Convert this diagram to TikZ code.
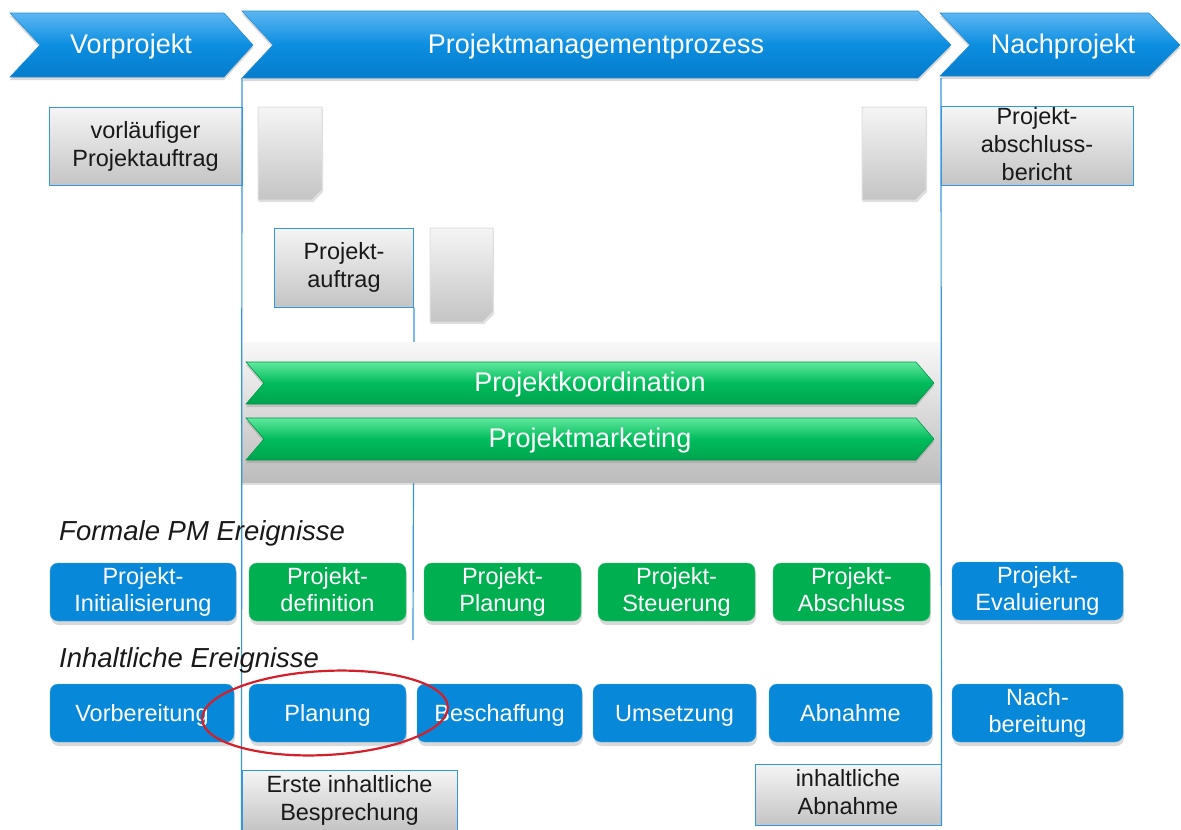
\documentclass[tikz,border=0pt]{standalone}
\usepackage{fontspec}
\setmainfont{Liberation Sans}
\usetikzlibrary{shapes.geometric,shadows}
\definecolor{chevtop}{RGB}{92,182,242}
\definecolor{chevmid}{RGB}{12,142,224}
\definecolor{chevbot}{RGB}{6,124,204}
\definecolor{chevedge}{RGB}{40,140,210}
\definecolor{grtop}{RGB}{96,232,156}
\definecolor{grmid}{RGB}{0,188,92}
\definecolor{grbot}{RGB}{0,164,78}
\definecolor{gredge}{RGB}{0,150,72}
\definecolor{boxtop}{RGB}{245,245,245}
\definecolor{boxbot}{RGB}{196,196,196}
\definecolor{lineblue}{RGB}{52,150,220}
\definecolor{evblue}{RGB}{8,136,216}
\definecolor{evgreen}{RGB}{0,176,80}
\definecolor{paneltop}{RGB}{248,248,248}
\definecolor{panelbot}{RGB}{188,188,188}
\definecolor{ringred}{RGB}{212,32,42}
\newcommand{\pmhead}{\fontsize{27}{30}\selectfont}
\newcommand{\pmbox}{\fontsize{23.5}{28}\selectfont}
\newcommand{\pmev}{\fontsize{23.5}{27}\selectfont}
\newcommand{\pmstrut}{\rule[-5pt]{0pt}{27pt}}

\begin{document}
\begin{tikzpicture}[x=1pt, y=-1pt]
\tikzstyle{phase}=[top color=chevtop, bottom color=chevbot, middle color=chevmid, draw=chevedge, line width=0.6pt, drop shadow={shadow xshift=0pt, shadow yshift=-3pt, opacity=.3}]
\tikzstyle{stream}=[top color=grtop, bottom color=grbot, middle color=grmid, draw=gredge, line width=0.6pt, drop shadow={shadow xshift=0pt, shadow yshift=-3pt, opacity=.3}]
\tikzstyle{struts}=[execute at begin node=\pmstrut, execute at end node=\pmstrut]
\tikzstyle{phasetext}=[struts, text=white, font=\pmhead, inner sep=0pt]
\tikzstyle{docbox}=[struts, rectangle, draw=lineblue, line width=1pt, top color=boxtop, bottom color=boxbot, text=black!90, font=\pmbox, align=center, inner sep=0pt]
\tikzstyle{sheet}=[top color=boxtop, bottom color=boxbot, draw=black!12, line width=1pt, drop shadow={shadow xshift=1pt, shadow yshift=-2pt, opacity=.25}]
\tikzstyle{panel}=[top color=paneltop, bottom color=panelbot, drop shadow={shadow xshift=0pt, shadow yshift=-3pt, opacity=.25}]
\tikzstyle{divider}=[draw=lineblue, line width=1.2pt]
\tikzstyle{evbox}=[struts, rectangle, rounded corners=8pt, text=white, font=\pmev, align=center, inner sep=0pt, minimum height=58, drop shadow={shadow xshift=1pt, shadow yshift=-4pt, opacity=.3}]
\tikzstyle{evb}=[evbox, fill=evblue, draw=evblue!75!white]
\tikzstyle{evg}=[evbox, fill=evgreen, draw=evgreen!75!white]
\tikzstyle{section}=[font=\fontsize{27.5}{30}\selectfont\itshape, text=black!90, inner sep=0pt, anchor=base west]
\tikzstyle{ring}=[ellipse, draw=ringred, line width=2.2pt, minimum width=246, minimum height=84, inner sep=0pt, rotate=3]

\useasboundingbox (0,0) rectangle (1181,830);

\path[phase] (10,13) -- (224,13) -- (253,45) -- (224,77) -- (10,77) -- (40,45) -- cycle;
\path[phase] (242,11) -- (918,11) -- (951,45) -- (918,78) -- (242,78) -- (273,45) -- cycle;
\path[phase] (940,13) -- (1149,13) -- (1180,45) -- (1149,76) -- (940,76) -- (970,45) -- cycle;
\node[phasetext] (P0) at (131,45) {Vorprojekt};
\node[phasetext] (P1) at (596,45) {Projektmanagementprozess};
\node[phasetext] (P2) at (1063,45) {Nachprojekt};

\node[docbox, minimum width=193, minimum height=78] (B0) at (145.5,146) {vorläufiger\\Projektauftrag};
\node[docbox, minimum width=192, minimum height=78] (B1) at (1037,146) {Projekt-\\abschluss-\\bericht};
\node[docbox, minimum width=139, minimum height=79] (B2) at (344,267.5) {Projekt-\\auftrag};
\node[docbox, minimum width=215, minimum height=60] (B3) at (349.5,800) {Erste inhaltliche\\Besprechung};
\node[docbox, minimum width=186, minimum height=61] (B4) at (848,794.5) {inhaltliche\\Abnahme};

\path[sheet] (258,107) -- (322,107) -- (322,190) -- (312,200) -- (258,200) -- cycle;
\path[sheet] (430,228) -- (493,228) -- (493,312) -- (483,322) -- (430,322) -- cycle;
\path[sheet] (862,107) -- (926,107) -- (926,190) -- (916,200) -- (862,200) -- cycle;

\coordinate (L0t) at (242,78);
\coordinate (L1t) at (941,78);
\coordinate (L2b) at (413,640);
\draw[divider] (B2.south east) -- (L2b);

\path[panel] (242,342) rectangle (941,482);
\path[stream] (246,362) -- (916,362) -- (934,383) -- (916,404) -- (246,404) -- (264,383) -- cycle;
\path[stream] (246,418) -- (916,418) -- (934,439) -- (916,460) -- (246,460) -- (264,439) -- cycle;
\node[phasetext] (S0) at (590,383) {Projektkoordination};
\node[phasetext] (S1) at (590,439) {Projektmarketing};

\draw[divider] (L0t) -- (B3.south west);
\draw[divider] (L1t) -- (B4.south east);

\node[section] (H0) at (59,540) {Formale PM Ereignisse};
\node[section] (H1) at (59,667) {Inhaltliche Ereignisse};

\node[evb, minimum width=186] (F1) at (143,592) {Projekt-\\Initialisierung};
\node[evg, minimum width=157] (F2) at (327.5,592) {Projekt-\\definition};
\node[evg, minimum width=157] (F3) at (502.5,592) {Projekt-\\Planung};
\node[evg, minimum width=157] (F4) at (676.5,592) {Projekt-\\Steuerung};
\node[evg, minimum width=157] (F5) at (851.5,592) {Projekt-\\Abschluss};
\node[evb, minimum width=171] (F6) at (1037.5,591) {Projekt-\\Evaluierung};

\node[evb, minimum width=184] (I1) at (142,713) {Vorbereitung};
\node[evb, minimum width=157] (I2) at (327.5,713) {Planung};
\node[evb, minimum width=165] (I3) at (499.5,713) {Beschaffung};
\node[evb, minimum width=163] (I4) at (674.5,713) {Umsetzung};
\node[evb, minimum width=163] (I5) at (850.5,713) {Abnahme};
\node[evb, minimum width=171] (I6) at (1037.5,713) {Nach-\\bereitung};

\node[ring] (R0) at (325,713) {};
\end{tikzpicture}
\end{document}
